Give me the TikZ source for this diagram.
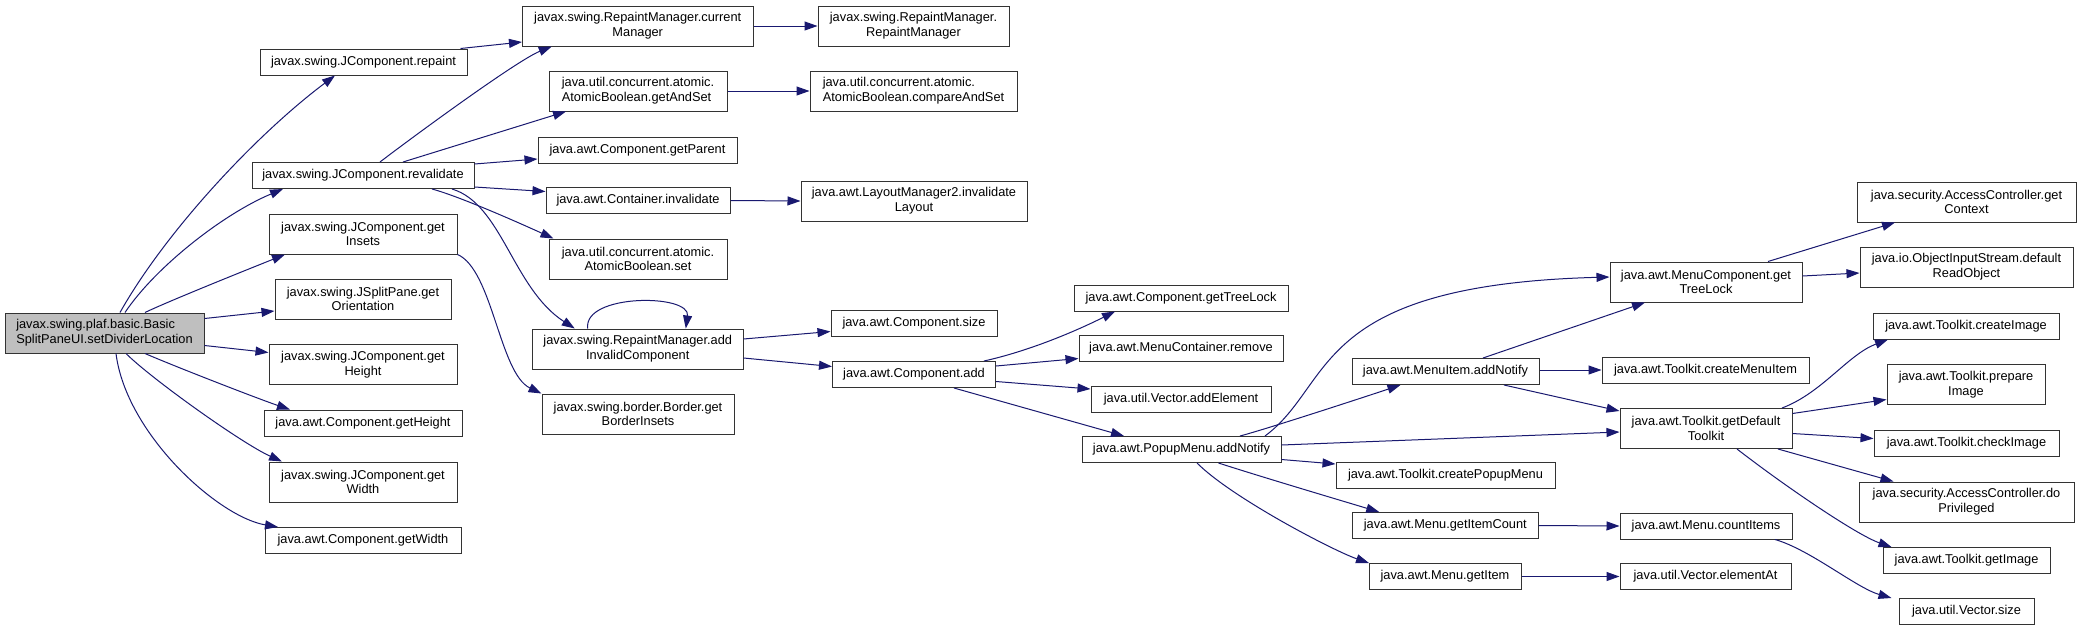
\documentclass[tikz,border=0pt]{standalone}
\usepackage{fontspec}
\setmainfont{Liberation Sans}
\usetikzlibrary{arrows.meta}
\definecolor{edgeblue}{HTML}{191970}
\definecolor{rootgrey}{HTML}{BFBFBF}
\tikzset{
  box/.style={draw=black!80, line width=1pt, fill=white, inner sep=0pt, align=center,
    font=\fontsize{12.8}{14.7}\selectfont, minimum height=26pt},
  tall/.style={minimum height=40pt},
  rootbox/.style={fill=rootgrey},
  call/.style={draw=edgeblue, line width=1pt, -{Triangle[length=13pt,width=9pt,fill=edgeblue]}},
}
\begin{document}
\begin{tikzpicture}[x=1pt,y=-1pt]
\useasboundingbox[fill=white] (0,0) rectangle (2081,630);
% column 0
\node[box,tall,rootbox,align=left,minimum width=199pt] (main) at (104.5,333) {javax.swing.plaf.basic.Basic\\SplitPaneUI.setDividerLocation};
% column 1
\node[box,minimum width=207pt] (repaint) at (363.5,62) {javax.swing.JComponent.repaint};
\node[box,minimum width=222pt] (revalidate) at (363,175.5) {javax.swing.JComponent.revalidate};
\node[box,tall,minimum width=188pt] (getInsets) at (363,234) {javax.swing.JComponent.get\\Insets};
\node[box,tall,minimum width=176pt] (getOrientation) at (363,299) {javax.swing.JSplitPane.get\\Orientation};
\node[box,tall,minimum width=188pt] (jgetHeight) at (363,364.5) {javax.swing.JComponent.get\\Height};
\node[box,minimum width=198pt] (cgetHeight) at (363,423) {java.awt.Component.getHeight};
\node[box,tall,minimum width=188pt] (jgetWidth) at (363,482) {javax.swing.JComponent.get\\Width};
\node[box,minimum width=196pt] (cgetWidth) at (363,540.5) {java.awt.Component.getWidth};
% column 2
\node[box,tall,minimum width=230.5pt] (currentManager) at (637.75,26) {javax.swing.RepaintManager.current\\Manager};
\node[box,tall,minimum width=178pt,align=left] (getAndSet) at (638,91) {java.util.concurrent.atomic.\\AtomicBoolean.getAndSet};
\node[box,minimum width=199pt] (getParent) at (637.5,150) {java.awt.Component.getParent};
\node[box,minimum width=184pt] (cinvalidate) at (638,200.5) {java.awt.Container.invalidate};
\node[box,tall,minimum width=178pt] (abset) at (638,259) {java.util.concurrent.atomic.\\AtomicBoolean.set};
\node[box,tall,minimum width=210.5pt] (addInvalid) at (637.75,349) {javax.swing.RepaintManager.add\\InvalidComponent};
\node[box,tall,minimum width=192pt] (getBorderInsets) at (638,414) {javax.swing.border.Border.get\\BorderInsets};
% column 3
\node[box,tall,minimum width=191pt] (rmRM) at (913.5,26) {javax.swing.RepaintManager.\\RepaintManager};
\node[box,tall,minimum width=207pt,align=left] (compareAndSet) at (913.5,91) {java.util.concurrent.atomic.\\AtomicBoolean.compareAndSet};
\node[box,tall,minimum width=226pt] (invalidateLayout) at (914,201) {java.awt.LayoutManager2.invalidate\\Layout};
\node[box,minimum width=166pt] (csize) at (914,323.5) {java.awt.Component.size};
\node[box,minimum width=163pt] (cadd) at (914,374.5) {java.awt.Component.add};
% column 4
\node[box,minimum width=214pt] (ctreelock) at (1181,298) {java.awt.Component.getTreeLock};
\node[box,minimum width=204pt] (mcremove) at (1181,348.5) {java.awt.MenuContainer.remove};
\node[box,minimum width=180pt] (addElement) at (1181,399) {java.util.Vector.addElement};
\node[box,minimum width=199pt] (popupAdd) at (1181.5,449.5) {java.awt.PopupMenu.addNotify};
% column 5
\node[box,minimum width=187pt] (menuItemAdd) at (1445.5,371.5) {java.awt.MenuItem.addNotify};
\node[box,minimum width=219pt] (createPopupMenu) at (1445.5,475) {java.awt.Toolkit.createPopupMenu};
\node[box,minimum width=185.5pt] (getItemCount) at (1445.25,525.5) {java.awt.Menu.getItemCount};
\node[box,minimum width=152pt] (getItem) at (1445,576.5) {java.awt.Menu.getItem};
% column 6
\node[box,tall,minimum width=192pt] (mcTreeLock) at (1706,282) {java.awt.MenuComponent.get\\TreeLock};
\node[box,minimum width=207pt] (createMenuItem) at (1705.5,370) {java.awt.Toolkit.createMenuItem};
\node[box,tall,minimum width=172pt] (defaultToolkit) at (1706,428.5) {java.awt.Toolkit.getDefault\\Toolkit};
\node[box,minimum width=172pt] (countItems) at (1706,526) {java.awt.Menu.countItems};
\node[box,minimum width=171pt] (elementAt) at (1705.5,576.5) {java.util.Vector.elementAt};
% column 7
\node[box,tall,minimum width=219pt] (getContext) at (1966.5,202) {java.security.AccessController.get\\Context};
\node[box,tall,minimum width=213pt] (defaultReadObject) at (1966.5,267) {java.io.ObjectInputStream.default\\ReadObject};
\node[box,minimum width=186pt] (createImage) at (1966,326) {java.awt.Toolkit.createImage};
\node[box,tall,minimum width=158pt] (prepareImage) at (1966,384.5) {java.awt.Toolkit.prepare\\Image};
\node[box,minimum width=185pt] (checkImage) at (1966.5,443.5) {java.awt.Toolkit.checkImage};
\node[box,tall,minimum width=215pt] (doPrivileged) at (1966.5,502) {java.security.AccessController.do\\Privileged};
\node[box,minimum width=167pt] (getImage) at (1966.5,560.5) {java.awt.Toolkit.getImage};
\node[box,minimum width=135pt] (vectorSize) at (1966.5,611.5) {java.util.Vector.size};
% edges from main
\draw[call] ([xshift=15.5pt]main.north) .. controls +(45,-80) and +(-80,60) .. ([xshift=-28.5pt]repaint.south);
\draw[call] ([xshift=20.5pt]main.north) .. controls +(30,-45) and +(-60,25) .. ([xshift=-80pt]revalidate.south);
\draw[call] ([xshift=40.5pt]main.north) .. controls +(25,-12) and +(-30,12) .. ([xshift=-78pt]getInsets.south);
\draw[call] ([yshift=-6pt]main.north east) -- ([yshift=-12pt]getOrientation.west);
\draw[call] ([yshift=8pt]main.south east) -- ([yshift=12pt]jgetHeight.west);
\draw[call] ([xshift=40.5pt]main.south) .. controls +(30,13) and +(-30,-10) .. ([xshift=-73pt]cgetHeight.north);
\draw[call] ([xshift=21.5pt]main.south) .. controls +(25,25) and +(-40,-18) .. ([xshift=-81pt]jgetWidth.north);
\draw[call] ([xshift=11.5pt]main.south) .. controls +(10,80) and +(-60,-10) .. ([xshift=-85pt]cgetWidth.north);
% edges from column 1
\draw[call] ([xshift=-7pt]repaint.north east) -- ([yshift=-16pt]currentManager.west);
\draw[call] ([xshift=17pt]revalidate.north) .. controls +(30,-23) and +(-35,14) .. ([xshift=-86pt]currentManager.south);
\draw[call] ([xshift=40pt]revalidate.north) -- ([xshift=-72pt]getAndSet.south);
\draw[call] ([yshift=-2pt]revalidate.north east) -- ([yshift=-9pt]getParent.west);
\draw[call] ([yshift=2pt]revalidate.south east) -- ([yshift=9pt]cinvalidate.west);
\draw[call] ([xshift=69pt]revalidate.south) .. controls +(30,8) and +(-22,-10) .. ([xshift=-84.5pt]abset.north);
\draw[call] ([xshift=89pt]revalidate.south) .. controls +(50,15) and +(-62,-40) .. ([xshift=-63pt]addInvalid.north);
\draw[call] (getInsets.south east) .. controls +(35,15) and +(-42,-20) .. (getBorderInsets.north west);
% edges from column 2
\draw[call] (currentManager.east) -- (rmRM.west);
\draw[call] (getAndSet.east) -- (compareAndSet.west);
\draw[call] (cinvalidate.east) -- (invalidateLayout.west);
\draw[call] ([xshift=-50pt]addInvalid.north) .. controls +(-5,-35) and +(5,-35) .. ([xshift=48pt]addInvalid.north);
\draw[call] ([yshift=10pt]addInvalid.east) -- ([yshift=-8pt]csize.west);
\draw[call] ([yshift=-9pt]addInvalid.east) -- ([yshift=8pt]cadd.west);
% edges from column 3
\draw[call] ([xshift=70pt]cadd.north) .. controls +(45,-10) and +(-40,20) .. ([xshift=-66pt]ctreelock.south);
\draw[call] ([yshift=8.5pt]cadd.east) -- ([yshift=-10pt]mcremove.west);
\draw[call] ([yshift=-7pt]cadd.east) -- ([yshift=10pt]addElement.west);
\draw[call] ([xshift=40pt]cadd.south) -- ([xshift=-57.5pt]popupAdd.north);
% edges from column 4
\draw[call] ([xshift=83.5pt]popupAdd.north) .. controls +(70,-52) and +(-300,8) .. ([yshift=5pt]mcTreeLock.west);
\draw[call] ([xshift=58.5pt]popupAdd.north) .. controls +(30,-8) and +(-30,10) .. ([xshift=-45pt]menuItemAdd.south);
\draw[call] ([yshift=4.5pt]popupAdd.east) -- ([yshift=-3.5pt]defaultToolkit.west);
\draw[call] ([yshift=-10pt]popupAdd.east) -- ([yshift=11pt]createPopupMenu.west);
\draw[call] ([xshift=37pt]popupAdd.south) .. controls +(40,13) and +(-30,-9) .. ([xshift=-66pt]getItemCount.north);
\draw[call] ([xshift=15.5pt]popupAdd.south) .. controls +(35,35) and +(-35,-12) .. ([xshift=-76pt]getItem.north);
% edges from column 5
\draw[call] ([xshift=37.5pt]menuItemAdd.north) -- ([xshift=-61pt]mcTreeLock.south);
\draw[call] ([yshift=1.5pt]menuItemAdd.east) -- (createMenuItem.west);
\draw[call] ([xshift=58.5pt]menuItemAdd.south) -- ([yshift=-3pt]defaultToolkit.north west);
\draw[call] (getItemCount.east) -- (countItems.west);
\draw[call] (getItem.east) -- (elementAt.west);
% edges from column 6
\draw[call] ([xshift=62pt]mcTreeLock.north) -- ([xshift=-71.5pt]getContext.south);
\draw[call] ([yshift=6pt]mcTreeLock.east) -- ([yshift=-6pt]defaultReadObject.west);
\draw[call] ([xshift=76pt]defaultToolkit.north) .. controls +(40,-15) and +(-40,15) .. ([xshift=-78pt]createImage.south);
\draw[call] ([yshift=15pt]defaultToolkit.east) -- ([yshift=-15pt]prepareImage.west);
\draw[call] ([yshift=-5pt]defaultToolkit.east) -- ([yshift=5pt]checkImage.west);
\draw[call] ([xshift=72pt]defaultToolkit.south) -- ([xshift=-73pt]doPrivileged.north);
\draw[call] ([xshift=31pt]defaultToolkit.south) .. controls +(45,35) and +(-35,-12) .. ([xshift=-75pt]getImage.north);
\draw[call] ([xshift=69pt]countItems.south) .. controls +(35,10) and +(-35,-10) .. ([xshift=-75pt]vectorSize.north);
\end{tikzpicture}
\end{document}
